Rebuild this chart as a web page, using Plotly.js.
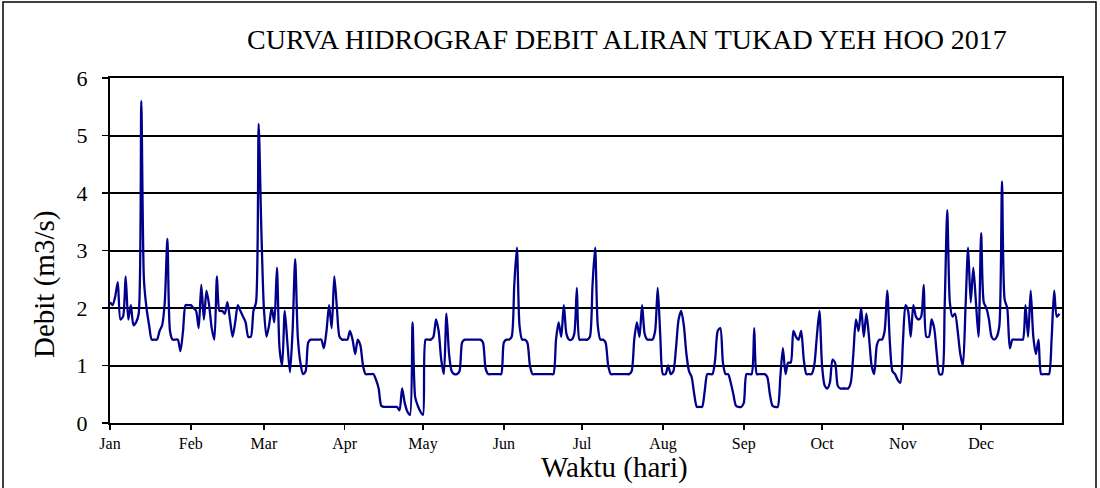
<!DOCTYPE html>
<html>
<head>
<meta charset="utf-8">
<script src="https://cdn.plot.ly/plotly-3.0.1.min.js"></script>
<style>
  html, body { margin: 0; padding: 0; background: #ffffff; }
  #chart { width: 1100px; height: 488px; }
</style>
</head>
<body>
<div id="chart"></div>
<script>
// Daily discharge (m3/s), Tukad Yeh Hoo 2017
const jan = [2.1, 2.05, 2.2, 2.45, 1.8, 1.85, 2.55, 1.8, 2.05, 1.7, 1.75, 1.9, 5.6, 2.5, 2.0, 1.7, 1.45, 1.45, 1.45, 1.6, 1.7, 2.1, 3.2, 1.6, 1.45, 1.45, 1.45, 1.25, 1.6, 2.05, 2.05];
const feb = [2.05, 2.0, 1.95, 1.65, 2.4, 1.8, 2.3, 2.05, 1.65, 1.45, 2.55, 1.95, 1.95, 1.9, 2.1, 1.8, 1.5, 1.75, 2.05, 1.95, 1.85, 1.75, 1.5, 1.5, 1.95, 2.1, 5.2, 3.4];
const mar = [2.0, 1.5, 1.7, 2.0, 1.75, 2.7, 1.3, 1.0, 1.95, 1.4, 0.88, 1.6, 2.85, 1.5, 1.05, 0.85, 0.9, 1.4, 1.45, 1.45, 1.45, 1.45, 1.45, 1.3, 1.6, 2.05, 1.65, 2.55, 2.0, 1.5, 1.45];
const apr = [1.45, 1.45, 1.6, 1.45, 1.2, 1.45, 1.35, 1.0, 0.85, 0.85, 0.85, 0.85, 0.75, 0.6, 0.3, 0.28, 0.28, 0.28, 0.28, 0.28, 0.28, 0.22, 0.6, 0.35, 0.2, 0.14, 1.75, 0.45, 0.3, 0.2];
const may = [0.14, 1.45, 1.45, 1.45, 1.5, 1.8, 1.6, 1.1, 0.85, 1.9, 1.2, 0.9, 0.85, 0.85, 0.9, 1.4, 1.45, 1.45, 1.45, 1.45, 1.45, 1.45, 1.45, 1.4, 0.95, 0.85, 0.85, 0.85, 0.85, 0.85, 0.85];
const jun = [1.4, 1.45, 1.45, 1.5, 2.4, 3.05, 1.7, 1.45, 1.45, 1.4, 1.0, 0.85, 0.85, 0.85, 0.85, 0.85, 0.85, 0.85, 0.85, 0.85, 1.45, 1.75, 1.5, 2.05, 1.55, 1.45, 1.45, 1.55, 2.35, 1.45];
const jul = [1.45, 1.45, 1.45, 1.5, 2.4, 3.05, 1.7, 1.45, 1.45, 1.4, 1.0, 0.85, 0.85, 0.85, 0.85, 0.85, 0.85, 0.85, 0.85, 0.9, 1.45, 1.75, 1.5, 2.05, 1.55, 1.45, 1.45, 1.45, 1.6, 2.35, 1.5];
const aug = [0.85, 0.85, 1.0, 0.85, 0.9, 1.3, 1.8, 1.95, 1.7, 1.2, 0.9, 0.8, 0.5, 0.28, 0.28, 0.28, 0.55, 0.85, 0.85, 0.85, 1.1, 1.6, 1.65, 1.05, 0.85, 0.85, 0.7, 0.5, 0.3, 0.28, 0.28];
const sep = [0.35, 0.85, 0.85, 0.85, 1.65, 0.85, 0.85, 0.85, 0.85, 0.8, 0.5, 0.3, 0.28, 0.28, 0.8, 1.3, 0.85, 1.05, 1.05, 1.6, 1.5, 1.45, 1.6, 1.1, 0.85, 0.85, 0.85, 1.0, 1.5, 1.95];
const oct = [1.0, 0.65, 0.6, 0.7, 1.1, 1.05, 0.65, 0.6, 0.6, 0.6, 0.6, 0.7, 1.2, 1.8, 1.6, 2.0, 1.5, 1.9, 1.5, 1.0, 0.85, 1.35, 1.45, 1.45, 1.6, 2.3, 1.4, 0.9, 0.85, 0.75, 0.7];
const nov = [1.4, 2.05, 1.95, 1.5, 2.05, 1.85, 1.8, 1.85, 2.4, 1.5, 1.5, 1.8, 1.65, 1.2, 0.85, 0.85, 2.0, 3.7, 2.1, 1.85, 1.9, 1.6, 1.2, 1.0, 2.0, 3.05, 2.1, 2.7, 2.1, 1.5];
const dec = [3.3, 2.1, 2.0, 1.8, 1.5, 1.45, 1.5, 1.7, 4.2, 2.15, 2.0, 1.3, 1.45, 1.45, 1.45, 1.45, 1.45, 2.05, 1.5, 2.3, 1.5, 1.2, 1.45, 0.85, 0.85, 0.85, 0.85, 1.45, 2.3, 1.85, 1.9];

const monthLabels = ["Jan", "Feb", "Mar", "Apr", "May", "Jun", "Jul", "Aug", "Sep", "Oct", "Nov", "Dec"];
const yTicks = [0, 1, 2, 3, 4, 5, 6];

const debit = [].concat(jan, feb, mar, apr, may, jun, jul, aug, sep, oct, nov, dec);

function isoDay(i) {
  const d = new Date(Date.UTC(2017, 0, 1 + i));
  return d.toISOString().slice(0, 10);
}
const dates = debit.map((v, i) => isoDay(i));
const monthStarts = monthLabels.map((m, k) => new Date(Date.UTC(2017, k, 1)).toISOString().slice(0, 10));

const serif = "Liberation Serif, Times New Roman, serif";

const trace = {
  x: dates,
  y: debit,
  type: "scatter",
  mode: "lines",
  line: { color: "#00008B", width: 2.3, shape: "spline", smoothing: 0.7 },
  hoverinfo: "x+y",
  showlegend: false
};

// plot area: x 110..1062, y 78..423
const W = 952, H = 345;
const layout = {
  width: 1100,
  height: 488,
  margin: { l: 110, r: 38, t: 78, b: 65 },
  paper_bgcolor: "#ffffff",
  plot_bgcolor: "#ffffff",
  title: {
    text: "CURVA HIDROGRAF DEBIT ALIRAN TUKAD YEH HOO 2017",
    font: { family: serif, size: 28, color: "#000000" },
    x: 627 / 1100, xanchor: "center",
    y: 1 - 39 / 488, yanchor: "middle"
  },
  xaxis: {
    type: "date",
    range: ["2017-01-01", "2018-01-01"],
    tickmode: "array",
    tickvals: monthStarts,
    ticktext: monthLabels,
    ticks: "outside",
    ticklen: 5,
    tickwidth: 1.5,
    tickcolor: "#000000",
    tickfont: { family: serif, size: 16, color: "#000000" },
    showgrid: false,
    showline: true,
    linecolor: "#000000",
    linewidth: 2,
    mirror: true,
    zeroline: false,
    fixedrange: true
  },
  yaxis: {
    range: [0, 6],
    tickmode: "array",
    tickvals: yTicks,
    ticktext: yTicks.map(String),
    ticks: "outside",
    ticklen: 6,
    tickwidth: 1.5,
    tickcolor: "#000000",
    ticklabelstandoff: 10,
    tickfont: { family: serif, size: 22, color: "#000000" },
    showgrid: true,
    gridcolor: "#000000",
    gridwidth: 2,
    showline: true,
    linecolor: "#000000",
    linewidth: 2,
    mirror: true,
    zeroline: false,
    fixedrange: true
  },
  annotations: [
    {
      text: "Debit (m3/s)",
      xref: "paper", yref: "paper",
      x: (44 - 110) / W, y: (423 - 285) / H,
      xanchor: "center", yanchor: "middle",
      textangle: -90, showarrow: false,
      font: { family: serif, size: 29, color: "#000000" }
    },
    {
      text: "Waktu (hari)",
      xref: "paper", yref: "paper",
      x: (614 - 110) / W, y: (423 - 468) / H,
      xanchor: "center", yanchor: "middle",
      showarrow: false,
      font: { family: serif, size: 29, color: "#000000" }
    }
  ],
  shapes: [
    {
      type: "rect", xref: "paper", yref: "paper",
      x0: (3 - 110) / W, x1: (1096 - 110) / W,
      y0: (423 - 495) / H, y1: (423 - 2) / H,
      line: { color: "#000000", width: 1.5 },
      fillcolor: "rgba(0,0,0,0)",
      layer: "below"
    }
  ]
};

Plotly.newPlot("chart", [trace], layout, { displayModeBar: false, staticPlot: true });
</script>
</body>
</html>
